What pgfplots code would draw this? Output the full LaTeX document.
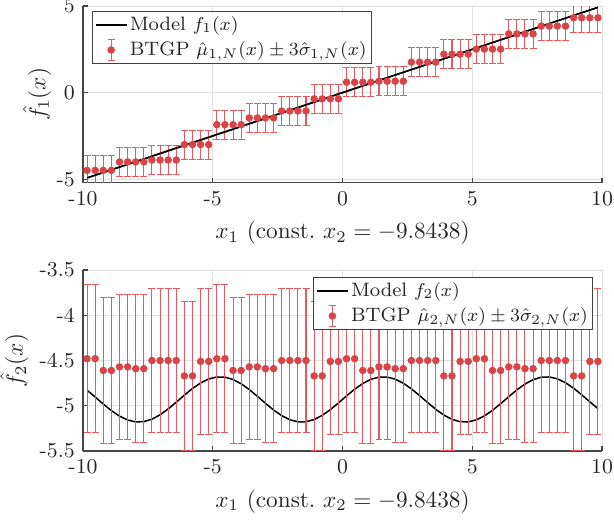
\documentclass[border=0pt]{standalone}
\usepackage{pgfplots}
\usepackage{pgfplotstable}
\pgfplotsset{compat=1.18}
\definecolor{btgp}{RGB}{217,68,72}
\definecolor{btgpbar}{RGB}{228,90,94}
\definecolor{gridc}{RGB}{225,225,225}
\definecolor{axc}{RGB}{70,70,70}
\definecolor{txc}{RGB}{38,38,38}

\pgfplotstableread{
x y e
-9.84375 -4.49 0.84
-9.53125 -4.49 0.84
-9.21875 -4.49 0.84
-8.90625 -4.49 0.84
-8.59375 -4.00 0.82
-8.28125 -4.00 0.82
-7.96875 -4.00 0.82
-7.65625 -4.00 0.82
-7.34375 -3.89 0.83
-7.03125 -3.89 0.83
-6.71875 -3.89 0.83
-6.40625 -3.89 0.83
-6.09375 -3.00 0.84
-5.78125 -3.00 0.84
-5.46875 -3.00 0.84
-5.15625 -3.00 0.84
-4.84375 -1.85 0.84
-4.53125 -1.85 0.84
-4.21875 -1.85 0.84
-3.90625 -1.85 0.84
-3.59375 -1.46 0.84
-3.28125 -1.46 0.84
-2.96875 -1.46 0.84
-2.65625 -1.46 0.84
-2.34375 -1.06 0.84
-2.03125 -1.06 0.84
-1.71875 -1.06 0.84
-1.40625 -1.06 0.84
-1.09375 -0.36 0.84
-0.78125 -0.36 0.84
-0.46875 -0.36 0.84
-0.15625 -0.36 0.84
0.15625 0.60 0.83
0.46875 0.60 0.83
0.78125 0.60 0.83
1.09375 0.60 0.83
1.40625 0.66 0.83
1.71875 0.66 0.83
2.03125 0.66 0.83
2.34375 0.66 0.83
2.65625 1.76 0.84
2.96875 1.76 0.84
3.28125 1.76 0.84
3.59375 1.76 0.84
3.90625 2.22 0.84
4.21875 2.22 0.84
4.53125 2.22 0.84
4.84375 2.22 0.84
5.15625 2.51 0.84
5.46875 2.51 0.84
5.78125 2.51 0.84
6.09375 2.51 0.84
6.40625 3.39 0.84
6.71875 3.39 0.84
7.03125 3.39 0.84
7.34375 3.39 0.84
7.65625 3.84 0.85
7.96875 3.84 0.85
8.28125 3.84 0.85
8.59375 3.84 0.85
8.90625 4.32 0.86
9.21875 4.32 0.86
9.53125 4.32 0.86
9.84375 4.32 0.86
}\topdata

\pgfplotstableread{
x y e
-9.84375 -4.48 0.82
-9.53125 -4.48 0.82
-9.21875 -4.61 0.81
-8.90625 -4.61 0.81
-8.59375 -4.57 0.80
-8.28125 -4.57 0.80
-7.96875 -4.59 0.82
-7.65625 -4.59 0.82
-7.34375 -4.50 0.80
-7.03125 -4.50 0.80
-6.71875 -4.50 0.80
-6.40625 -4.50 0.80
-6.09375 -4.67 0.82
-5.78125 -4.67 0.82
-5.46875 -4.51 0.81
-5.15625 -4.51 0.81
-4.84375 -4.48 0.82
-4.53125 -4.48 0.82
-4.21875 -4.61 0.81
-3.90625 -4.61 0.81
-3.59375 -4.57 0.80
-3.28125 -4.57 0.80
-2.96875 -4.59 0.82
-2.65625 -4.59 0.82
-2.34375 -4.50 0.80
-2.03125 -4.50 0.80
-1.71875 -4.50 0.80
-1.40625 -4.50 0.80
-1.09375 -4.67 0.82
-0.78125 -4.67 0.82
-0.46875 -4.51 0.81
-0.15625 -4.51 0.81
0.15625 -4.48 0.82
0.46875 -4.48 0.82
0.78125 -4.61 0.81
1.09375 -4.61 0.81
1.40625 -4.57 0.80
1.71875 -4.57 0.80
2.03125 -4.59 0.82
2.34375 -4.59 0.82
2.65625 -4.50 0.80
2.96875 -4.50 0.80
3.28125 -4.50 0.80
3.59375 -4.50 0.80
3.90625 -4.67 0.82
4.21875 -4.67 0.82
4.53125 -4.51 0.81
4.84375 -4.51 0.81
5.15625 -4.48 0.82
5.46875 -4.48 0.82
5.78125 -4.61 0.81
6.09375 -4.61 0.81
6.40625 -4.57 0.80
6.71875 -4.57 0.80
7.03125 -4.59 0.82
7.34375 -4.59 0.82
7.65625 -4.50 0.80
7.96875 -4.50 0.80
8.28125 -4.50 0.80
8.59375 -4.50 0.80
8.90625 -4.67 0.82
9.21875 -4.67 0.82
9.53125 -4.51 0.81
9.84375 -4.51 0.81
}\botdata

\pgfplotstableread{
x y
-9.84375 -4.8283
-9.53125 -4.9034
-9.21875 -4.9812
-8.90625 -5.0539
-8.59375 -5.1147
-8.28125 -5.1575
-7.96875 -5.1784
-7.65625 -5.1751
-7.34375 -5.1482
-7.03125 -5.1001
-6.71875 -5.0355
-6.40625 -4.9607
-6.09375 -4.8829
-5.78125 -4.8097
-5.46875 -4.7482
-5.15625 -4.7042
-4.84375 -4.6822
-4.53125 -4.6841
-4.21875 -4.7098
-3.90625 -4.7569
-3.59375 -4.8208
-3.28125 -4.8952
-2.96875 -4.9730
-2.65625 -5.0466
-2.34375 -5.1090
-2.03125 -5.1540
-1.71875 -5.1773
-1.40625 -5.1766
-1.09375 -5.1521
-0.78125 -5.1060
-0.46875 -5.0429
-0.15625 -4.9689
0.15625 -4.8911
0.46875 -4.8171
0.78125 -4.7540
1.09375 -4.7079
1.40625 -4.6834
1.71875 -4.6827
2.03125 -4.7060
2.34375 -4.7510
2.65625 -4.8134
2.96875 -4.8870
3.28125 -4.9648
3.59375 -5.0392
3.90625 -5.1031
4.21875 -5.1502
4.53125 -5.1759
4.84375 -5.1778
5.15625 -5.1558
5.46875 -5.1118
5.78125 -5.0503
6.09375 -4.9771
6.40625 -4.8993
6.71875 -4.8245
7.03125 -4.7599
7.34375 -4.7118
7.65625 -4.6849
7.96875 -4.6816
8.28125 -4.7025
8.59375 -4.7453
8.90625 -4.8061
9.21875 -4.8789
9.53125 -4.9566
9.84375 -5.0317
}\modeltwo

\pgfplotsset{
  mlab/.style={
    scale only axis,
    width=223.17pt,
    xmin=-10, xmax=10,
    xtick={-10,-5,0,5,10},
    xticklabels={-10,-5,0,5,10},
    enlargelimits=false,
    axis lines*=left,
    axis line style={-, draw=axc, line width=0.55pt},
    tick align=inside,
    major tick length=2.15pt,
    tick style={draw=axc, line width=0.45pt},
    grid=major,
    major grid style={draw=gridc, line width=0.42pt},
    ticklabel style={text=txc, font=\fontsize{9.1}{11}\selectfont},
    label style={text=txc},
    ylabel shift=-3pt,
    xlabel={$x_1$ (const.\ $x_2=-9.8438$)},
    legend cell align=left,
    legend style={draw=black!75, line width=0.42pt, fill=white, text=txc,
      font=\fontsize{8.35}{10}\selectfont,
      inner xsep=1pt, inner ysep=1pt, row sep=1.3pt,
      nodes={inner sep=1pt}},
  },
  modelline/.style={black, line width=0.65pt, no marks},
  btgpstyle/.style={only marks, mark=*, mark size=1.4pt, color=btgp,
    mark options={draw=btgp, fill=btgp},
    error bars/y dir=both, error bars/y explicit,
    error bars/error bar style={draw=btgpbar, color=btgpbar, line width=0.45pt},
    error bars/error mark options={draw=btgpbar, color=btgpbar, mark size=1.5pt, line width=0.45pt, rotate=90}},
  modellegend/.style={legend image code/.code={\draw[black, line width=0.65pt] (0pt,0pt) -- (13.4pt,0pt);}},
  btgplegend/.style={legend image code/.code={
      \draw[btgpbar, line width=0.45pt] (6.7pt,-4.4pt) -- (6.7pt,4.4pt);
      \draw[btgpbar, line width=0.45pt] (5.2pt,-4.4pt) -- (8.2pt,-4.4pt);
      \draw[btgpbar, line width=0.45pt] (5.2pt,4.4pt) -- (8.2pt,4.4pt);
      \fill[btgp] (6.7pt,0pt) circle (1.4pt);}},
}

\begin{document}
\begin{tikzpicture}
\path[use as bounding box] (-35.69pt,-29.24pt) rectangle (228.33pt,193.93pt);
% top axis
\begin{axis}[mlab,
  at={(0pt,115.37pt)}, anchor=south west,
  height=75.98pt,
  ymin=-5.2, ymax=5,
  ytick={-5,0,5}, yticklabels={-5,0,5},
  ylabel={$\hat{f}_1(x)$},
  ylabel shift=-4.5pt,
  legend style={at={(9/519,1-5/177)}, anchor=north west},
]
\addplot[modelline, modellegend] coordinates {(-9.84375,-4.921875) (9.84375,4.921875)};
\addlegendentry{Model $f_1(x)$}
\addplot[btgplegend, btgpstyle] table[x=x, y=y, y error=e] {\topdata};
\addlegendentry{BTGP $\hat{\mu}_{1,N}(x)\pm 3\hat{\sigma}_{1,N}(x)$}
\addplot[modelline, forget plot] coordinates {(-9.84375,-4.921875) (9.84375,4.921875)};
\end{axis}
% bottom axis
\begin{axis}[mlab,
  at={(0pt,0pt)}, anchor=south west,
  height=77.83pt,
  ymin=-5.5, ymax=-3.5,
  ytick={-5.5,-5,-4.5,-4,-3.5}, yticklabels={-5.5,-5,-4.5,-4,-3.5},
  ylabel={$\hat{f}_2(x)$},
  ylabel shift=-2pt,
  legend style={at={(1-9/519,1-7/181)}, anchor=north east},
]
\addplot[modelline, modellegend] table[x=x, y=y] {\modeltwo};
\addlegendentry{Model $f_2(x)$}
\addplot[btgplegend, btgpstyle] table[x=x, y=y, y error=e] {\botdata};
\addlegendentry{BTGP $\hat{\mu}_{2,N}(x)\pm 3\hat{\sigma}_{2,N}(x)$}
\end{axis}
\end{tikzpicture}
\end{document}
